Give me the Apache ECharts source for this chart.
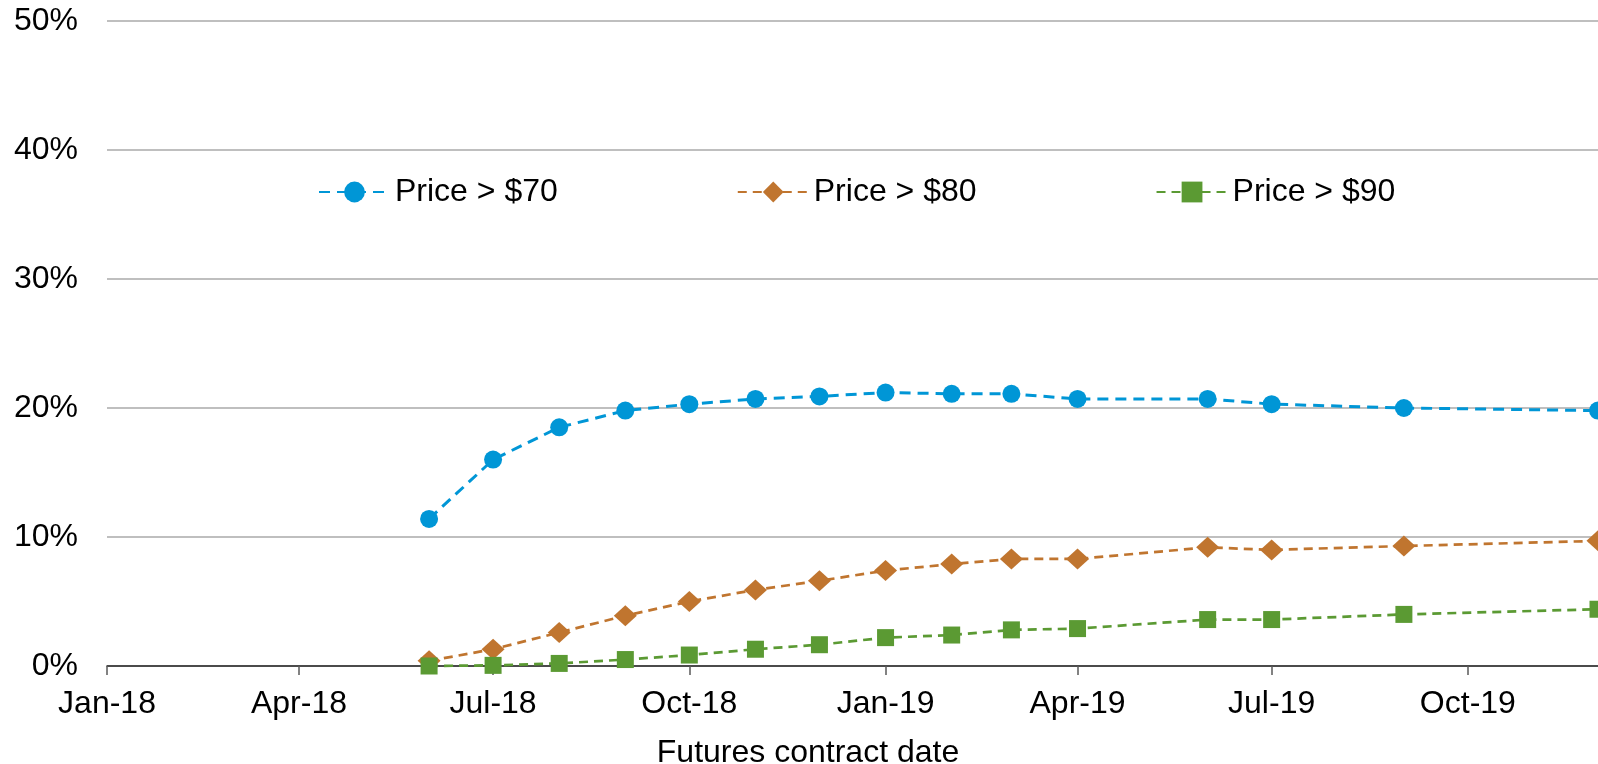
<!DOCTYPE html>
<html>
<head>
<meta charset="utf-8">
<title>Futures contract probabilities</title>
<script src="https://cdn.jsdelivr.net/npm/echarts@6/dist/echarts.min.js"></script>
<style>
  html, body { margin: 0; padding: 0; background: #fff; }
  #chart { width: 1598px; height: 764px; }
</style>
</head>
<body>
<div id="chart"></div>
<script>
// contract months (first of month) and probabilities in %
var months = ['2018-06-01', '2018-07-01', '2018-08-01', '2018-09-01', '2018-10-01', '2018-11-01',
              '2018-12-01', '2019-01-01', '2019-02-01', '2019-03-01', '2019-04-01', '2019-06-01',
              '2019-07-01', '2019-09-01', '2019-12-01'];
var above70 = [11.4, 16.0, 18.5, 19.8, 20.3, 20.7, 20.9, 21.2, 21.1, 21.1, 20.7, 20.7, 20.3, 20.0, 19.8];
var above80 = [0.4, 1.3, 2.6, 3.9, 5.0, 5.9, 6.6, 7.4, 7.9, 8.3, 8.3, 9.2, 9.0, 9.3, 9.7];
var above90 = [0.0, 0.05, 0.2, 0.5, 0.85, 1.3, 1.65, 2.2, 2.4, 2.8, 2.9, 3.6, 3.6, 4.0, 4.4];
var seriesNames = ['Price > $70', 'Price > $80', 'Price > $90'];

var tickDates = ['2018-01-01', '2018-04-01', '2018-07-01', '2018-10-01',
                 '2019-01-01', '2019-04-01', '2019-07-01', '2019-10-01'];
var tickLabels = ['Jan-18', 'Apr-18', 'Jul-18', 'Oct-18', 'Jan-19', 'Apr-19', 'Jul-19', 'Oct-19'];

var FONT = "'Liberation Sans', Arial, sans-serif";
var FS = 32;

// days since 1 Jan 2018, so spacing follows the calendar like the original date axis
function toDay(s) {
  var p = s.split('-');
  return Math.round((Date.UTC(+p[0], +p[1] - 1, +p[2]) - Date.UTC(2018, 0, 1)) / 86400000);
}
var tickDays = tickDates.map(toDay);

function pairs(vals) {
  return months.map(function (m, i) { return [toDay(m), vals[i]]; });
}

var myChart = echarts.init(document.getElementById('chart'));

function mkSeries(name, vals, color, symbol, size, width, dash) {
  return {
    name: name,
    type: 'line',
    data: pairs(vals),
    symbol: symbol,
    symbolSize: size,
    clip: false,
    lineStyle: { color: color, width: width, type: dash },
    itemStyle: { color: color }
  };
}

myChart.setOption({
  animation: false,
  grid: { left: 107, right: 0, top: 21, bottom: 98, containLabel: false },
  legend: {
    data: seriesNames,
    left: 313,
    top: 171,
    itemWidth: 71,
    itemHeight: 26,
    itemGap: 179,
    textStyle: { fontFamily: FONT, fontSize: FS, color: '#000' }
  },
  xAxis: {
    type: 'value',
    min: toDay('2018-01-01'),
    max: toDay('2019-12-01'),
    axisLine: { lineStyle: { color: '#262626', width: 1.5 } },
    axisTick: { show: true, customValues: tickDays, length: 9, lineStyle: { color: '#595959', width: 1.5 } },
    axisLabel: {
      customValues: tickDays,
      margin: 22,
      fontFamily: FONT,
      fontSize: FS,
      color: '#000',
      formatter: function (v) {
        var i = tickDays.indexOf(Math.round(v));
        return i >= 0 ? tickLabels[i] : '';
      }
    },
    splitLine: { show: false }
  },
  yAxis: {
    type: 'value',
    min: 0,
    max: 50,
    interval: 10,
    axisLine: { show: false },
    axisTick: { show: false },
    axisLabel: { formatter: '{value}%', margin: 29, fontFamily: FONT, fontSize: FS, color: '#000' },
    splitLine: { lineStyle: { color: '#BFBFBF', width: 2 } }
  },
  graphic: [{
    type: 'text',
    style: {
      text: 'Futures contract date',
      x: 808,
      y: 753,
      align: 'center',
      verticalAlign: 'middle',
      font: FS + 'px ' + FONT,
      fill: '#000'
    }
  }],
  series: [
    mkSeries(seriesNames[0], above70, '#0096D6', 'circle', 18, 3, [11, 7]),
    mkSeries(seriesNames[1], above80, '#C0752F', 'diamond', [23, 21], 2.7, [9, 6]),
    mkSeries(seriesNames[2], above90, '#5B9A33', 'rect', 17, 2.7, [9, 6])
  ]
});
</script>
</body>
</html>
